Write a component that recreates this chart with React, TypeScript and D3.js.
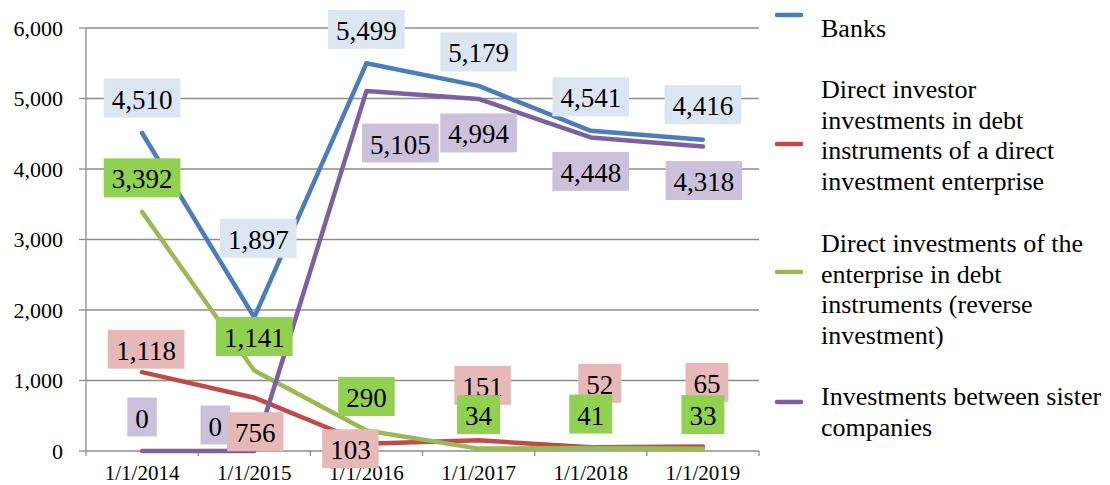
import * as d3 from 'd3';
import React from 'react';

const categories = ['1/1/2014', '1/1/2015', '1/1/2016', '1/1/2017', '1/1/2018', '1/1/2019'];
const banks = [4510, 1897, 5499, 5179, 4541, 4416];
const directInvestor = [1118, 756, 103, 151, 52, 65];
const reverseInvestment = [3392, 1141, 290, 34, 41, 33];
const sisterCompanies = [0, 0, 5105, 4994, 4448, 4318];
const yTicks = [0, 1000, 2000, 3000, 4000, 5000, 6000];

const series = [
  { name: 'Banks', values: banks, color: '#4a7ebb', box: '#dce6f2',
    legend: ['Banks'] },
  { name: 'Direct investor', values: directInvestor, color: '#be4b48', box: '#e6b9b8',
    legend: ['Direct investor', 'investments in debt', 'instruments of a direct', 'investment enterprise'] },
  { name: 'Reverse', values: reverseInvestment, color: '#98b954', box: '#92d050',
    legend: ['Direct investments of the', 'enterprise in debt', 'instruments (reverse', 'investment)'] },
  { name: 'Sister', values: sisterCompanies, color: '#7d60a0', box: '#ccc1da',
    legend: ['Investments between sister', 'companies'] },
];

// label placement (pixel offsets from the point), manual like in the source
const labelOffsets = [
  [[0, -35], [4, -79], [0, -34], [0, -34], [0, -34], [0, -35]],
  [[4, -23], [1, 34], [-16, 5], [4, -55], [9, -64], [4, -64]],
  [[0, -34], [0, -34], [0, -34], [0, -34], [0, -34], [0, -34]],
  [[0, -34], [-39, -26], [34, 52], [0, 34], [0, 34], [1, 34]],
];
const labelOrder = [0, 3, 1, 2];

const legendMarkerY = [15, 144, 272, 402];
const legendTextY = [37, 98, 252, 405];

const font = 'Liberation Serif, Tinos, Times New Roman, DejaVu Serif, serif';
const fmt = d3.format(',');

const textWidth = (s: string, size: number) =>
  s.split('').reduce((w, ch) => w + (ch === ',' ? 0.25 : 0.5) * size, 0);

export default function App() {
  const left = 86, right = 759, top = 28, bottom = 451;
  const x = d3.scaleBand().domain(categories).range([left, right]);
  const y = d3.scaleLinear().domain([0, 6000]).range([bottom, top]);
  const cx = (c: string) => (x(c) as number) + x.bandwidth() / 2;

  const line = d3.line<number>()
    .x((_, i) => cx(categories[i]))
    .y(d => y(d));

  const grid = '#8c8c8c';
  const labelSize = 27;

  return (
    <svg width={1110} height={485}
      style={{ position: 'absolute', left: 0, top: 0, background: '#fff', fontFamily: font }}>
      {yTicks.filter(t => t > 0).map(t => (
        <line key={'g' + t} x1={left} x2={right} y1={y(t)} y2={y(t)} stroke={grid} strokeWidth={1.3} />
      ))}
      {yTicks.map(t => (
        <g key={'t' + t}>
          <line x1={left - 7} x2={left} y1={y(t)} y2={y(t)} stroke={grid} strokeWidth={1.3} />
          <text x={63} y={y(t) + 7.5} textAnchor="end" fontSize={22} fill="#000">{fmt(t)}</text>
        </g>
      ))}
      <line x1={left} x2={left} y1={top} y2={bottom} stroke={grid} strokeWidth={1.3} />
      <line x1={left} x2={right} y1={bottom} y2={bottom} stroke={grid} strokeWidth={1.3} />
      {categories.map((c, i) => (
        <line key={'xt' + i} x1={(x(c) as number)} x2={(x(c) as number)} y1={bottom} y2={bottom + 5} stroke={grid} strokeWidth={1.3} />
      ))}
      <line x1={right} x2={right} y1={bottom} y2={bottom + 5} stroke={grid} strokeWidth={1.3} />
      {categories.map(c => (
        <text key={'xl' + c} x={cx(c)} y={480} textAnchor="middle" fontSize={21} fill="#000">{c}</text>
      ))}

      {series.map(s => (
        <path key={'l' + s.name} d={line(s.values) as string} fill="none" stroke={s.color}
          strokeWidth={4.5} strokeLinejoin="round" strokeLinecap="round" />
      ))}

      {labelOrder.map(si => {
        const s = series[si];
        return s.values.map((v, i) => {
          const txt = fmt(v);
          const w = textWidth(txt, labelSize) + 16;
          const h = 39;
          const px = cx(categories[i]) + labelOffsets[si][i][0];
          const py = y(v) + labelOffsets[si][i][1];
          return (
            <g key={'lb' + si + '-' + i}>
              <rect x={px - w / 2} y={py - h / 2} width={w} height={h} fill={s.box} />
              <text x={px} y={py + 10.5} textAnchor="middle" fontSize={labelSize} fill="#000">{txt}</text>
            </g>
          );
        });
      })}

      {series.map((s, i) => (
        <g key={'lg' + i}>
          <line x1={777} x2={801} y1={legendMarkerY[i]} y2={legendMarkerY[i]} stroke={s.color} strokeWidth={4.5} strokeLinecap="round" />
          {s.legend.map((ln, j) => (
            <text key={j} x={821} y={legendTextY[i] + j * 30.5} fontSize={26} fill="#000">{ln}</text>
          ))}
        </g>
      ))}
    </svg>
  );
}
